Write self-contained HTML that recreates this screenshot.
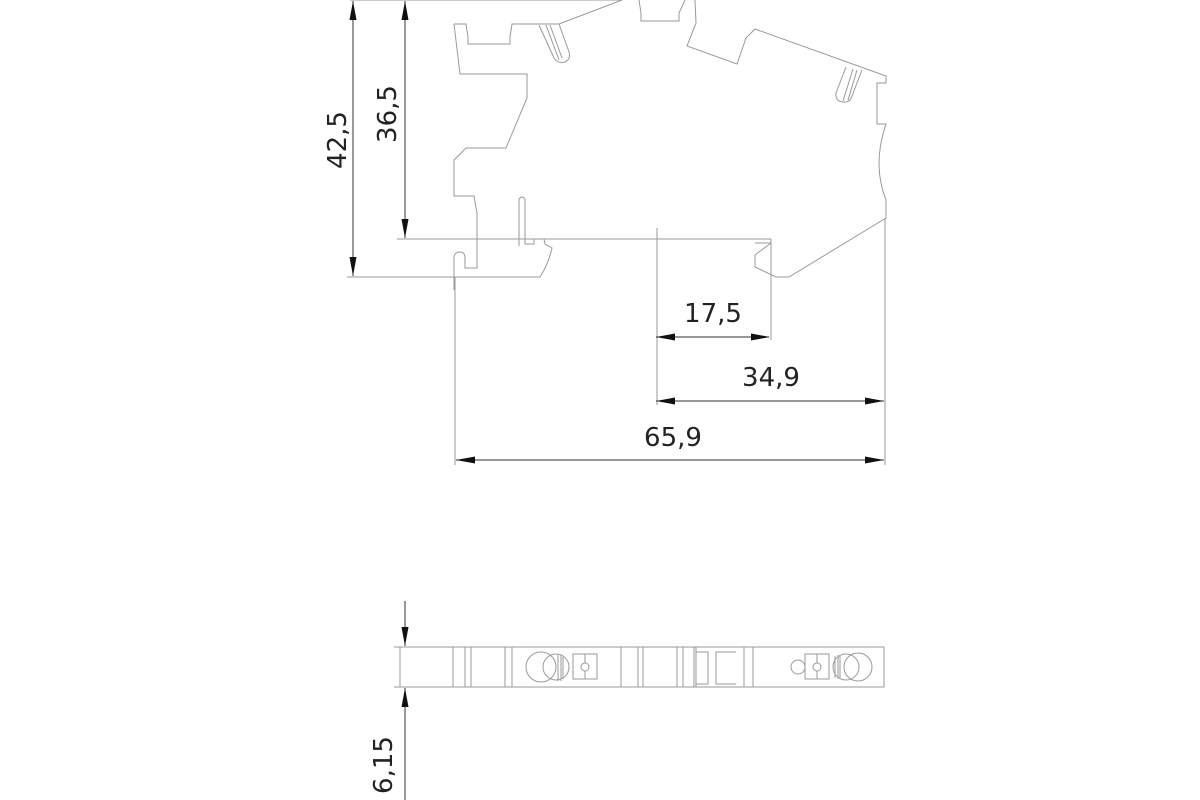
<!DOCTYPE html>
<html><head><style>html,body{margin:0;background:#fff}svg{display:block}</style></head><body>
<svg width="1200" height="800" viewBox="0 0 1200 800" xmlns="http://www.w3.org/2000/svg">
<g fill="none" stroke="#9a9a9a" stroke-width="1">
<path d="M454,24 L466,24 L468,37 L468,44 L510,44 L510,37 L512,24 L559,24 L622,0 M639,0 L641,13 L641,21 L679,21 L679,13 L685,0 M695,0 L696,23 L687,46 L737,64 L746,38 L755,29 L886,76 L886,83 L877,83 L877,124 L886,124 Q872,165 886,200 L886,218 L789,277 L776,277 L755,267 L755,255 L771,243 L771,239"/>
<path d="M454,24 L460,74 L527,74 L527,98 L506,148 L466,148 L454,160 L454,196 L474,196 L477,213 L477,268 L465,268 L465,258 Q465,252 460,252 Q454,252 454,258 L454,290"/>
<path d="M347,277 L540,277 Q548,265 552,248 L545,244 L544,239"/>
<path d="M519,246 L519,199 Q522,195 525,199 L525,244 L534,244 L534,239"/>
<path d="M755,243 L771,243"/>
<!-- latches -->
<path d="M539,25 L554,58 Q558,64 565,62 Q571,59 569,52 L559,24 M546,25 L559,60 M550,25 L562,58"/>
<path d="M846,67 L836,93 Q835,101 843,102 Q850,103 852,96 L862,70 M853,69 L843,101 M857,70 L848,100"/>
<path d="M350,0 L622,0 M397,239 L771,239 M455,277 L455,465 M657,228 L657,405 M771,239 L771,340 M885,218 L885,465"/>
<rect x="400" y="647" width="484" height="40"/>
<path d="M400,647 L394,647 M400,687 L394,687"/>
<path d="M453,647V687M465,647V687M471,647V687M505,647V687M512,647V687M621,647V687M638,647V687M643,647V687M677,647V687M683,647V687M694,647V687M696,647V687M744,647V687M753,647V687"/>
<path d="M696,652 L708,652 L708,684 L696,684 M736,652 L716,652 L716,684 L736,684"/>
<circle cx="541" cy="667" r="15"/><circle cx="556" cy="667" r="13"/>
<path d="M558,655V681M561,655V681M563,657V679"/>
<rect x="573" y="654" width="24" height="25"/><circle cx="585" cy="667" r="4"/>
<path d="M585,654V663M585,671V679"/>
<rect x="805" y="654" width="24" height="25"/><circle cx="817" cy="667" r="4"/>
<path d="M817,654V663M817,671V679"/>
<circle cx="798" cy="667" r="7"/><circle cx="846" cy="667" r="13"/><circle cx="858" cy="667" r="14"/>
<path d="M835,656V678M838,655V679M840,655V679"/>
</g>
<g stroke="#333" stroke-width="1">
<line x1="353" y1="1" x2="353" y2="276"/>
<line x1="405" y1="1" x2="405" y2="238"/>
<line x1="656" y1="337" x2="769" y2="337"/>
<line x1="656" y1="401" x2="884" y2="401"/>
<line x1="456" y1="460" x2="884" y2="460"/>
<line x1="405" y1="601" x2="405" y2="646"/>
<line x1="405" y1="800" x2="405" y2="688"/>
</g>
<g fill="#111">
<polygon points="353,1 349.5,20 356.5,20"/><polygon points="353,276 349.5,257 356.5,257"/>
<polygon points="405,1 401.5,20 408.5,20"/><polygon points="405,238 401.5,219 408.5,219"/>
<polygon points="656,337 675,333.5 675,340.5"/><polygon points="770,337 751,333.5 751,340.5"/>
<polygon points="656,401 675,397.5 675,404.5"/><polygon points="884,401 865,397.5 865,404.5"/>
<polygon points="456,460 475,456.5 475,463.5"/><polygon points="884,460 865,456.5 865,463.5"/>
<polygon points="405,646 401.5,627 408.5,627"/><polygon points="405,688 401.5,707 408.5,707"/>
</g>
<g font-family="'DejaVu Sans','Liberation Sans',sans-serif" font-size="26" fill="#222">
<text transform="translate(346,140) rotate(-90)" text-anchor="middle">42,5</text>
<text transform="translate(396,114) rotate(-90)" text-anchor="middle">36,5</text>
<text x="713" y="322" text-anchor="middle">17,5</text>
<text x="771" y="386" text-anchor="middle">34,9</text>
<text x="673" y="446" text-anchor="middle">65,9</text>
<text transform="translate(392,765) rotate(-90)" text-anchor="middle">6,15</text>
</g>
</svg>
</body></html>
